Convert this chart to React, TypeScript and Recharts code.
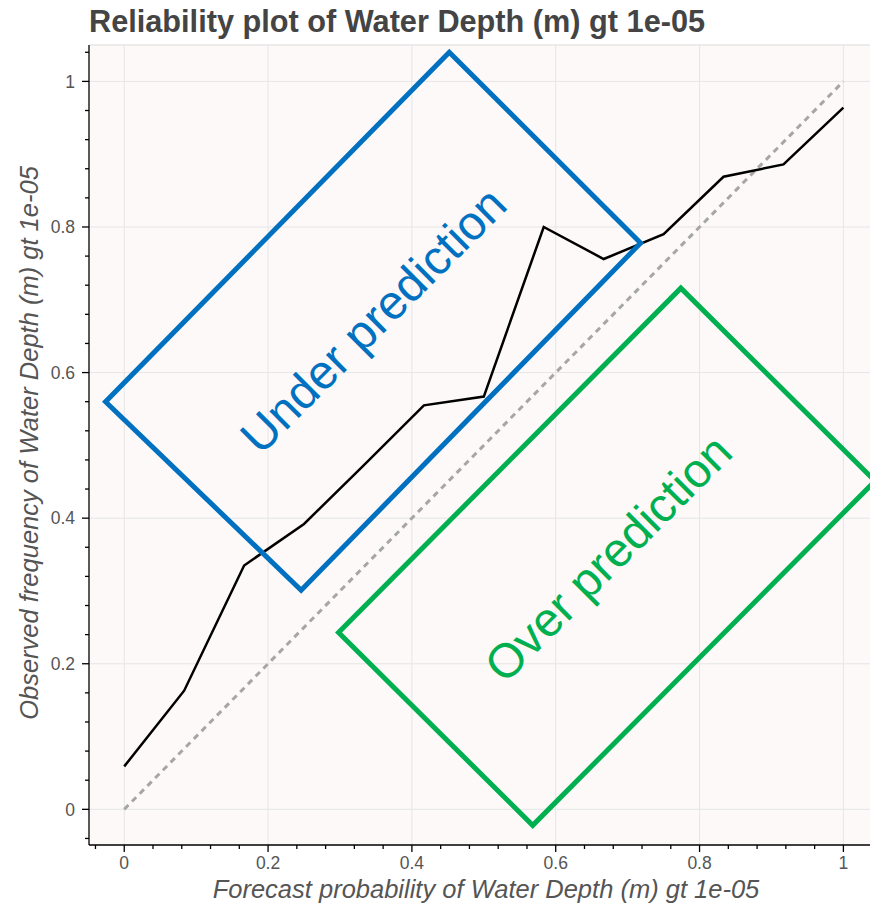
import { LineChart, Line, XAxis, YAxis, CartesianGrid, ReferenceLine, ReferenceDot } from 'recharts';

const FONT = '"Liberation Sans", Arial, Helvetica, sans-serif';

// reliability curve: forecast probability bins vs observed frequency
const forecastProb = [0, 0.0833, 0.1667, 0.25, 0.3333, 0.4167, 0.5, 0.5833, 0.6667, 0.75, 0.8333, 0.9167, 1];
const observedFreq = [0.059, 0.163, 0.335, 0.392, 0.473, 0.555, 0.567, 0.8, 0.756, 0.79, 0.869, 0.886, 0.964];

// perfect reliability diagonal
const diagX = [0, 1];
const diagY = [0, 1];

// annotation boxes (corners listed in drawing order, first edge repeated so the start corner is joined)
const underBoxX = [-0.026, 0.452, 0.718, 0.246, -0.026, 0.452];
const underBoxY = [0.56, 1.04, 0.778, 0.301, 0.56, 1.04];
const overBoxX = [0.298, 0.774, 1.044, 0.568, 0.298, 0.774];
const overBoxY = [0.243, 0.716, 0.451, -0.022, 0.243, 0.716];

const underLabel = { x: 0.3625, y: 0.656, text: 'Under prediction' };
const overLabel = { x: 0.689, y: 0.329, text: 'Over prediction' };

const majorTicks = [0, 0.2, 0.4, 0.6, 0.8, 1];
const minorTicks = [
  -0.04, 0, 0.04, 0.08, 0.12, 0.16, 0.2, 0.24, 0.28, 0.32, 0.36, 0.4, 0.44, 0.48,
  0.52, 0.56, 0.6, 0.64, 0.68, 0.72, 0.76, 0.8, 0.84, 0.88, 0.92, 0.96, 1, 1.04,
];

const xDomain: [number, number] = [-0.049, 1.037];
const yDomain: [number, number] = [-0.049, 1.05];

const BLUE = '#0070c0';
const GREEN = '#00b050';
const GRID = '#e6e6e6';
const LABEL = '#555';

const toPoints = (xs: number[], ys: number[]) => xs.map((x, i) => ({ x, y: ys[i] }));

const reliability = toPoints(forecastProb, observedFreq);
const diagonal = toPoints(diagX, diagY);
const underBox = toPoints(underBoxX, underBoxY);
const overBox = toPoints(overBoxX, overBoxY);

const XTick = (props: any) => {
  const { x, y, payload } = props;
  const major = majorTicks.includes(payload.value);
  return (
    <g>
      <line x1={x} x2={x} y1={y} y2={y + (major ? 7 : 4)} stroke="#000" strokeWidth={1.3} />
      {major && (
        <text x={x} y={y + 23.5} textAnchor="middle" fill={LABEL} fontSize={17.5} fontFamily={FONT}>
          {String(payload.value)}
        </text>
      )}
    </g>
  );
};

const YTick = (props: any) => {
  const { x, y, payload } = props;
  const major = majorTicks.includes(payload.value);
  return (
    <g>
      <line x1={x - (major ? 7 : 4)} x2={x} y1={y} y2={y} stroke="#000" strokeWidth={1.3} />
      {major && (
        <text x={x - 14} y={y + 6.3} textAnchor="end" fill={LABEL} fontSize={17.5} fontFamily={FONT}>
          {String(payload.value)}
        </text>
      )}
    </g>
  );
};

const boxLabel = (text: string, color: string) => (props: any) => {
  const { cx, cy } = props;
  return (
    <text
      x={cx}
      y={cy}
      textAnchor="middle"
      fill={color}
      fontSize={48}
      fontFamily={FONT}
      transform={`rotate(-45 ${cx} ${cy})`}
    >
      {text}
    </text>
  );
};

export default function App() {
  return (
    <div style={{ position: 'absolute', left: 0, top: 0, width: 870, height: 906, background: '#fff' }}>
      <LineChart width={870} height={906} margin={{ top: 45, right: 0, bottom: 0, left: 0 }}>
        <CartesianGrid horizontal={false} vertical={false} fill="#fcf9f8" />
        <XAxis
          dataKey="x"
          type="number"
          domain={xDomain}
          allowDataOverflow
          ticks={minorTicks}
          interval={0}
          height={61}
          tickSize={0}
          tickMargin={0}
          tickLine={false}
          tick={<XTick />}
          axisLine={{ stroke: '#000', strokeWidth: 1.3 }}
        />
        <YAxis
          dataKey="y"
          type="number"
          domain={yDomain}
          allowDataOverflow
          ticks={minorTicks}
          interval={0}
          width={89}
          tickSize={0}
          tickMargin={0}
          tickLine={false}
          tick={<YTick />}
          axisLine={{ stroke: '#000', strokeWidth: 1.3 }}
        />
        {majorTicks.map((v) => (
          <ReferenceLine key={`gx${v}`} x={v} stroke={GRID} strokeWidth={1} />
        ))}
        {majorTicks.map((v) => (
          <ReferenceLine key={`gy${v}`} y={v} stroke={GRID} strokeWidth={1} />
        ))}
        <ReferenceLine y={yDomain[1]} stroke={GRID} strokeWidth={1.5} />
        <Line
          data={diagonal}
          dataKey="y"
          type="linear"
          stroke="#a6a6a6"
          strokeWidth={3}
          strokeDasharray="6 5"
          dot={false}
          activeDot={false}
          isAnimationActive={false}
        />
        <Line
          data={reliability}
          dataKey="y"
          type="linear"
          stroke="#000"
          strokeWidth={2.5}
          dot={false}
          activeDot={false}
          isAnimationActive={false}
        />
        <Line
          data={underBox}
          dataKey="y"
          type="linear"
          stroke={BLUE}
          strokeWidth={5}
          dot={false}
          activeDot={false}
          isAnimationActive={false}
        />
        <Line
          data={overBox}
          dataKey="y"
          type="linear"
          stroke={GREEN}
          strokeWidth={5}
          dot={false}
          activeDot={false}
          isAnimationActive={false}
        />
        <ReferenceDot x={underLabel.x} y={underLabel.y} r={0} shape={boxLabel(underLabel.text, BLUE)} />
        <ReferenceDot x={overLabel.x} y={overLabel.y} r={0} shape={boxLabel(overLabel.text, GREEN)} />
      </LineChart>
      <svg
        width={870}
        height={906}
        style={{ position: 'absolute', left: 0, top: 0, pointerEvents: 'none' }}
      >
        <text x={89} y={32} fontSize={30.7} fontWeight="bold" fill="#444" fontFamily={FONT}>
          Reliability plot of Water Depth (m) gt 1e-05
        </text>
        <text x={486} y={898} fontSize={25.5} fontStyle="italic" fill={LABEL} textAnchor="middle" fontFamily={FONT}>
          Forecast probability of Water Depth (m) gt 1e-05
        </text>
        <text
          x={38}
          y={443}
          fontSize={25.5}
          fontStyle="italic"
          fill={LABEL}
          textAnchor="middle"
          fontFamily={FONT}
          transform="rotate(-90 38 443)"
        >
          Observed frequency of Water Depth (m) gt 1e-05
        </text>
      </svg>
    </div>
  );
}
